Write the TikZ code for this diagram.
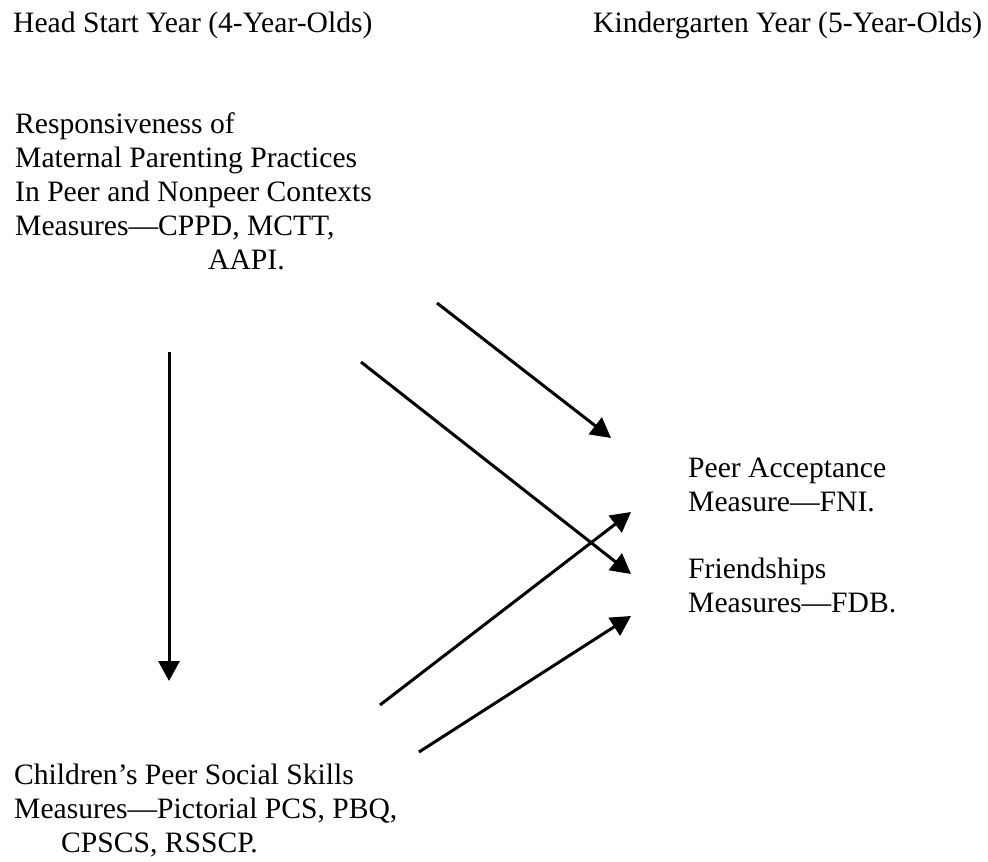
\documentclass[tikz,border=0pt]{standalone}
\usepackage{fontspec}
\setmainfont{Liberation Serif}
\usetikzlibrary{arrows.meta}
% each label node is anchored at the baseline of its last line
\tikzset{
  lbl/.style={anchor=base west, inner sep=0pt, align=left,
    font=\fontsize{29.6}{34}\selectfont},
  link/.style={line width=3pt, -{Triangle[length=20pt,width=21pt]}}
}
\begin{document}
\begin{tikzpicture}[x=1pt,y=-1pt]
\useasboundingbox (0,0) rectangle (988,862);
% column headings
\node[lbl] (hs) at (13,32) {Head Start Year (4-Year-Olds)};
\node[lbl] (kg) at (593,32) {Kindergarten Year (5-Year-Olds)};
% constructs
\node[lbl] (parent) at (15,269) {Responsiveness of\\Maternal Parenting Practices\\In Peer and Nonpeer Contexts\\Measures—CPPD, MCTT,\\\hspace*{193pt}AAPI.};
\node[lbl] (child) at (14,852) {Children’s Peer Social Skills\\Measures—Pictorial PCS, PBQ,\\\hspace*{47pt}CPSCS, RSSCP.};
\node[lbl] (accept) at (688,511) {Peer Acceptance\\Measure—FNI.};
\node[lbl] (friend) at (688,612) {Friendships\\Measures—FDB.};
% arrow end points
\coordinate (p0) at (169,352);  \coordinate (c1) at (169,681);
\coordinate (p1) at (437,303);  \coordinate (a1) at (611,438);
\coordinate (p2) at (361,362);  \coordinate (f1) at (631,574);
\coordinate (c2) at (380,705);  \coordinate (a2) at (631,512);
\coordinate (c3) at (419,752);  \coordinate (f2) at (631,616);
% paths
\draw[link] (p0) -- (c1);
\draw[link] (p1) -- (a1);
\draw[link] (p2) -- (f1);
\draw[link] (c2) -- (a2);
\draw[link] (c3) -- (f2);
\end{tikzpicture}
\end{document}
